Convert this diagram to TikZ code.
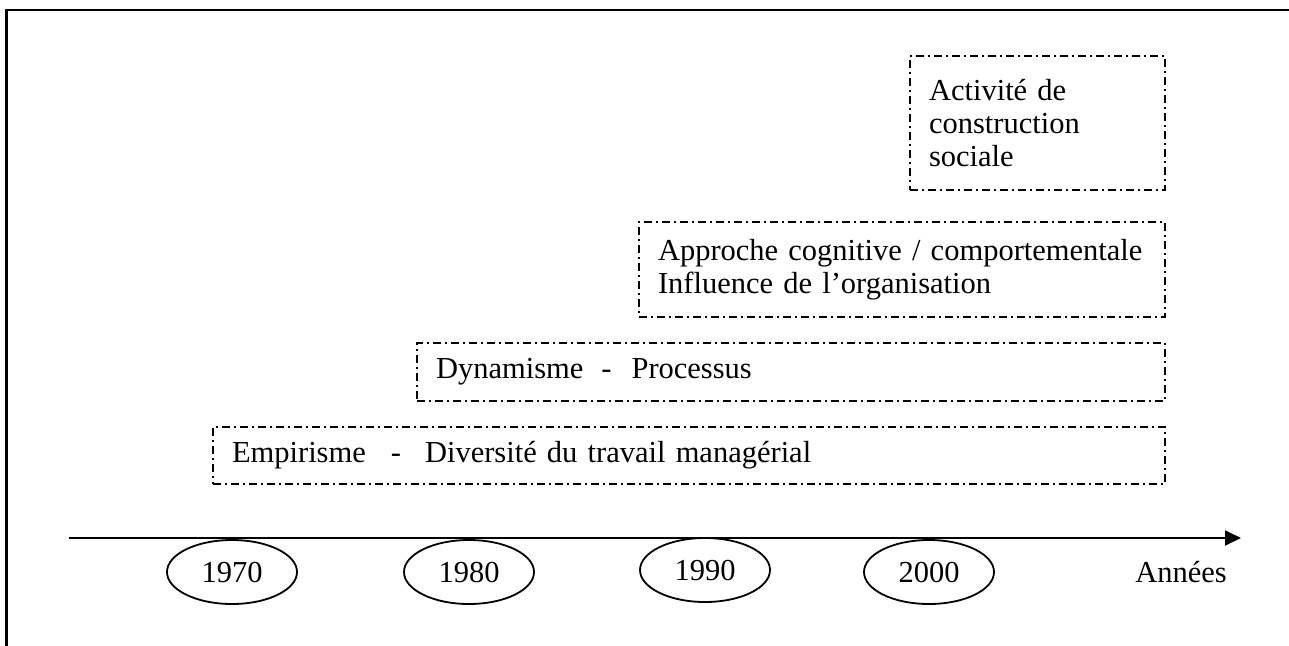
\documentclass[tikz,border=0pt]{standalone}
\usepackage{fontspec}
\setmainfont{Liberation Serif}
\usetikzlibrary{arrows.meta,shapes.geometric}
\begin{document}
\begin{tikzpicture}[x=1pt,y=-1pt,
  every node/.style={font=\fontsize{30.5}{33}\selectfont},
  era/.style={draw, line width=1.8pt, dash pattern=on 8pt off 4pt on 2pt off 4pt,
    rectangle, inner xsep=19pt, inner ysep=0pt, align=left},
  year/.style={draw, ellipse, line width=1.8pt, minimum width=130pt,
    minimum height=64pt, inner sep=0pt},
  axis/.style={line width=1.8pt, -{Triangle[length=16pt,width=15pt]}},
  frame/.style={line width=2.2pt}]
\useasboundingbox (0,0) rectangle (1289,645);
\draw[frame] (6.5,660) -- (6.5,10) -- (1300,10);

\node[era, text width=217pt, minimum height=134pt] (act) at (1037.5,123)
  {\mbox{Activité de}\\\mbox{construction}\\\mbox{sociale}};
\node[era, text width=488pt, minimum height=95pt] (app) at (902,269.5)
  {\mbox{Approche cognitive / comportementale}\\\mbox{Influence de l’organisation}};
\node[era, text width=710pt, minimum height=58pt] (dyn) at (791,372)
  {\mbox{Dynamisme\hspace{18pt}-\hspace{20pt}Processus}};
\node[era, text width=914pt, minimum height=57pt] (emp) at (689,455.5)
  {\mbox{Empirisme\hspace{25pt}-\hspace{24pt}Diversité du travail managérial}};

\coordinate (ax0) at (69,538);
\coordinate (ax1) at (1241,538);
\draw[axis] (ax0) -- (ax1);

\node[year] (y70) at (232,572) {1970};
\node[year] (y80) at (469,572) {1980};
\node[year] (y90) at (705,570) {1990};
\node[year] (y00) at (929,572) {2000};
\node (annees) at (1181,572) {Années};
\end{tikzpicture}
\end{document}
